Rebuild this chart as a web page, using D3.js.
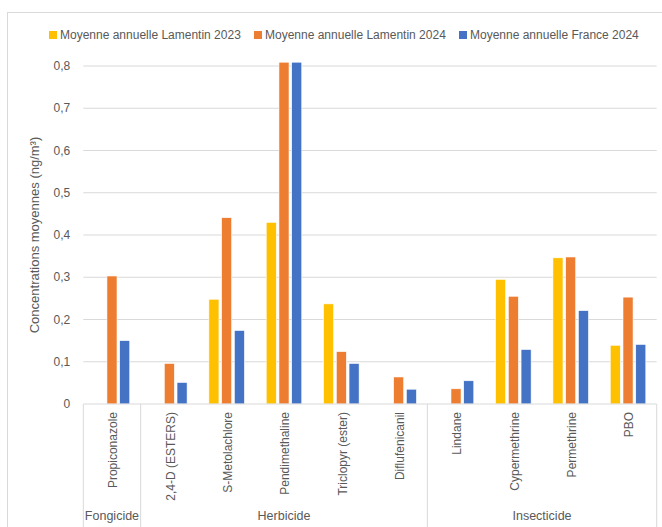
<!DOCTYPE html>
<html>
<head>
<meta charset="utf-8">
<script src="https://cdn.jsdelivr.net/npm/d3@7"></script>
<style>
  body { margin: 0; background: #fff; }
  svg text { font-family: "Liberation Sans", Arial, sans-serif; fill: #595959; }
</style>
</head>
<body>
<div id="chart"></div>
<script>
// Data
const categories = ["Propiconazole", "2,4-D (ESTERS)", "S-Metolachlore", "Pendimethaline", "Triclopyr (ester)",
                    "Diflufenicanil", "Lindane", "Cypermethrine", "Permethrine", "PBO"];
const groups = [
  {name: "Fongicide", from: 0, to: 0},
  {name: "Herbicide", from: 1, to: 5},
  {name: "Insecticide", from: 6, to: 9}
];
const seriesNames = ["Moyenne annuelle Lamentin 2023", "Moyenne annuelle Lamentin 2024", "Moyenne annuelle France 2024"];
const lamentin2023 = [null, null, 0.248, 0.430, 0.237, null, null, 0.295, 0.346, 0.139];
const lamentin2024 = [0.303, 0.096, 0.441, 0.809, 0.124, 0.064, 0.036, 0.255, 0.348, 0.253];
const france2024   = [0.150, 0.051, 0.174, 0.809, 0.096, 0.035, 0.055, 0.129, 0.221, 0.141];
const yTicks = [0, 0.1, 0.2, 0.3, 0.4, 0.5, 0.6, 0.7, 0.8];
const colors = ["#FFC000", "#ED7D31", "#4472C4"];

const W = 662, H = 527;
const margin = {top: 66, right: 5.3, bottom: 123, left: 83.3},
      width = W - margin.left - margin.right,
      height = H - margin.top - margin.bottom;

const svg = d3.select("#chart").append("svg")
    .attr("width", W)
    .attr("height", H);

// chart outline
svg.append("rect")
    .attr("x", 7.5).attr("y", 12.5)
    .attr("width", 700).attr("height", 600)
    .attr("fill", "none")
    .attr("stroke", "#d9d9d9");

const g = svg.append("g")
    .attr("transform", `translate(${margin.left},${margin.top})`);

const x0 = d3.scaleBand().domain(categories).range([0, width]).padding(0);
const groupW = x0.bandwidth() * 0.62;
const x1 = d3.scaleBand().domain(seriesNames)
    .range([(x0.bandwidth() - groupW) / 2, (x0.bandwidth() + groupW) / 2])
    .paddingInner(0.21);
const y = d3.scaleLinear().domain([0, 0.8]).range([height, 0]);

// gridlines
g.selectAll(".grid")
    .data(yTicks.slice(1))
    .join("line")
    .attr("x1", 0).attr("x2", width)
    .attr("y1", d => y(d)).attr("y2", d => y(d))
    .attr("stroke", "#d9d9d9")
    .attr("stroke-width", 1);

// y tick labels
const fmt = d => d === 0 ? "0" : d3.format(".1f")(d).replace(".", ",");
g.selectAll(".ytick")
    .data(yTicks)
    .join("text")
    .attr("x", -13)
    .attr("y", d => y(d))
    .attr("dy", "0.35em")
    .attr("text-anchor", "end")
    .style("font-size", "12px")
    .text(fmt);

// y axis title
svg.append("text")
    .attr("transform", `translate(39,${margin.top + height / 2}) rotate(-90)`)
    .attr("text-anchor", "middle")
    .style("font-size", "13px")
    .text("Concentrations moyennes (ng/m³)");

// bars
const series = [lamentin2023, lamentin2024, france2024];
const cells = [];
categories.forEach((c, i) => {
  series.forEach((s, j) => {
    if (s[i] != null) cells.push({cat: c, ser: seriesNames[j], v: s[i], k: j});
  });
});
g.selectAll(".bar")
    .data(cells)
    .join("rect")
    .attr("x", d => x0(d.cat) + x1(d.ser))
    .attr("y", d => y(d.v))
    .attr("width", x1.bandwidth())
    .attr("height", d => y(0) - y(d.v))
    .attr("fill", d => colors[d.k])
    .attr("stroke", "#fff")
    .attr("stroke-width", 0.6);

// baseline
g.append("line")
    .attr("x1", 0).attr("x2", width)
    .attr("y1", height).attr("y2", height)
    .attr("stroke", "#d9d9d9");

// group separators down to bottom
const seps = [0, 1, 6, categories.length].map(i => i === categories.length ? width : x0(categories[i]));
g.selectAll(".sep")
    .data(seps)
    .join("line")
    .attr("x1", d => d).attr("x2", d => d)
    .attr("y1", height).attr("y2", H - margin.top + 5)
    .attr("stroke", "#d9d9d9");

// category labels (rotated)
g.selectAll(".cat")
    .data(categories)
    .join("text")
    .attr("transform", d => `translate(${x0(d) + x0.bandwidth() / 2 + 1},${height + 8}) rotate(-90)`)
    .attr("text-anchor", "end")
    .attr("dy", "0.35em")
    .style("font-size", "12px")
    .text(d => d);

// group labels
g.selectAll(".grp")
    .data(groups)
    .join("text")
    .attr("x", d => (x0(categories[d.from]) + x0(categories[d.to]) + x0.bandwidth()) / 2)
    .attr("y", 520 - margin.top)
    .attr("text-anchor", "middle")
    .style("font-size", "12.5px")
    .text(d => d.name);

// legend
const legendX = [49, 254, 459];
const legend = svg.selectAll(".leg")
    .data(seriesNames)
    .join("g")
    .attr("transform", (d, i) => `translate(${legendX[i]},35)`);
legend.append("rect")
    .attr("x", 0).attr("y", -4)
    .attr("width", 8).attr("height", 8)
    .attr("fill", (d, i) => colors[i]);
legend.append("text")
    .attr("x", 11)
    .attr("dy", "0.35em")
    .style("font-size", "12px")
    .text(d => d);
</script>
</body>
</html>
